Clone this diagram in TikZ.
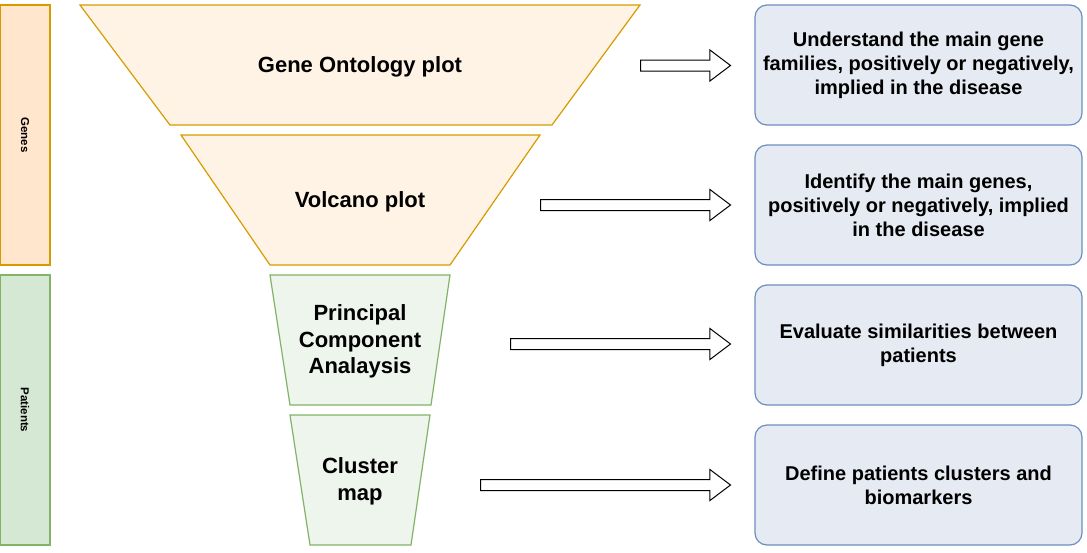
\documentclass[tikz,border=0pt]{standalone}
\usepackage{fontspec}
\setmainfont{Liberation Sans}
\usetikzlibrary{shapes.arrows}

\definecolor{geneline}{HTML}{D79B00}
\definecolor{genefill}{HTML}{FFE6CC}
\definecolor{genelight}{HTML}{FFF3E5}
\definecolor{patline}{HTML}{82B366}
\definecolor{patfill}{HTML}{D5E8D4}
\definecolor{patlight}{HTML}{EDF5EC}
\definecolor{boxline}{HTML}{6C8EBF}
\definecolor{boxfill}{HTML}{E6EAF2}

\begin{document}
\begin{tikzpicture}[x=1pt,y=-1pt,line width=1.2pt,
  side bar/.style={draw,rotate=-90,minimum height=50pt,inner sep=0pt,font=\fontsize{11.5}{13}\selectfont\bfseries},
  funnel text/.style={align=center,font=\fontsize{22}{26.4}\selectfont\bfseries},
  goal box/.style={draw=boxline,fill=boxfill,rounded corners=12pt,minimum width=327pt,minimum height=120pt,align=center,font=\fontsize{20}{24}\selectfont\bfseries},
  big arrow/.style={single arrow,draw=black,fill=white,line width=1pt,inner sep=5pt,single arrow head extend=10pt,single arrow tip angle=74,anchor=tail}]

  \useasboundingbox (0,0) rectangle (1087,552);

  % side bars
  \node[side bar,draw=geneline,fill=genefill,minimum width=260pt] (genes) at (25,135) {Genes};
  \node[side bar,draw=patline,fill=patfill,minimum width=270pt] (patients) at (25,410) {Patients};

  % funnel
  \draw[geneline,fill=genelight] (80,5) -- (640,5) -- (552,125) -- (170,125) -- cycle;
  \node[funnel text] (go) at (360,67) {Gene Ontology plot};
  \draw[geneline,fill=genelight] (181,135) -- (540,135) -- (450,265) -- (270,265) -- cycle;
  \node[funnel text] (volcano) at (360,202) {Volcano plot};
  \draw[patline,fill=patlight] (270,275) -- (450,275) -- (431,405) -- (290,405) -- cycle;
  \node[funnel text] (pca) at (360,341.5) {Principal\\Component\\Analaysis};
  \draw[patline,fill=patlight] (290,415) -- (430,415) -- (411,545) -- (310,545) -- cycle;
  \node[funnel text] (cluster) at (360,481.5) {Cluster\\map};

  % goals
  \node[goal box] (g1) at (918.5,65) {Understand the main gene\\families, positively or negatively,\\implied in the disease};
  \node[goal box] (g2) at (918.5,205) {Identify the main genes,\\positively or negatively, implied\\in the disease};
  \node[goal box] (g3) at (918.5,345) {Evaluate similarities between\\patients};
  \node[goal box] (g4) at (918.5,485) {Define patients clusters and\\biomarkers};

  % arrows
  \node[big arrow,minimum height=90pt] (a1) at (640,65.5) {};
  \node[big arrow,minimum height=190pt] (a2) at (540,205) {};
  \node[big arrow,minimum height=220pt] (a3) at (510,344) {};
  \node[big arrow,minimum height=250pt] (a4) at (480,485) {};
\end{tikzpicture}
\end{document}
